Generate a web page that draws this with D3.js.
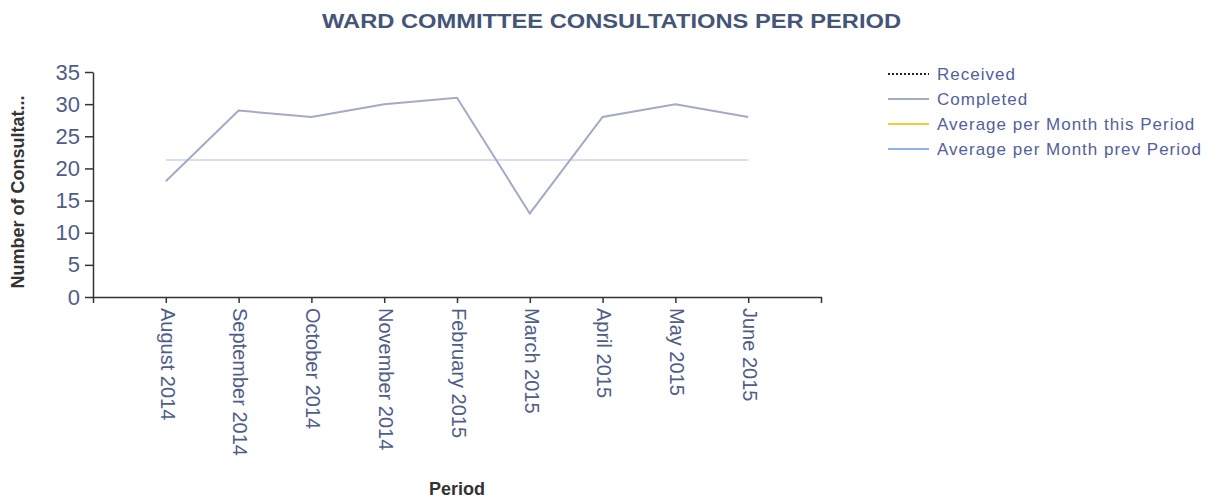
<!DOCTYPE html>
<html>
<head>
<meta charset="utf-8">
<script src="https://cdnjs.cloudflare.com/ajax/libs/d3/7.8.5/d3.min.js"></script>
<style>
  body { margin: 0; background: #ffffff; }
</style>
</head>
<body>
<div id="chart"></div>
<script>
// data
var periods = ["August 2014", "September 2014", "October 2014", "November 2014",
    "February 2015", "March 2015", "April 2015", "May 2015", "June 2015"];
var completed = [18, 29, 28, 30, 31, 13, 28, 30, 28];
var avgPrevPeriod = [21.3, 21.3, 21.3, 21.3, 21.3, 21.3, 21.3, 21.3, 21.3];
var yTicks = [0, 5, 10, 15, 20, 25, 30, 35];
var legendItems = ["Received", "Completed", "Average per Month this Period", "Average per Month prev Period"];

var font = "Arial, 'Liberation Sans', sans-serif";
var margin = { top: 72, left: 93 };
var width = 821 - margin.left;
var height = 297 - margin.top;

var svg = d3.select("#chart")
    .append("svg")
    .attr("width", 1218)
    .attr("height", 499);

var g = svg.append("g")
    .attr("transform", "translate(" + margin.left + "," + margin.top + ")");

var x = d3.scalePoint()
    .domain(periods)
    .range([0, width])
    .padding(1);

var y = d3.scaleLinear()
    .domain([0, 35])
    .range([height, 0]);

// title
svg.append("text")
    .attr("x", 322)
    .attr("y", 28)
    .attr("textLength", 579)
    .attr("lengthAdjust", "spacingAndGlyphs")
    .attr("font-family", font)
    .style("font-size", "20px")
    .attr("font-weight", 700)
    .attr("fill", "#445578")
    .text("WARD COMMITTEE CONSULTATIONS PER PERIOD");

// y axis
var yAxis = g.append("g")
    .call(d3.axisLeft(y).tickValues(yTicks).tickSize(8).tickSizeOuter(0));
yAxis.select(".domain").attr("stroke", "#333").attr("stroke-width", 1.5);
yAxis.selectAll(".tick line").attr("stroke", "#333").attr("stroke-width", 1.5);
yAxis.selectAll("text")
    .attr("x", -13)
    .attr("fill", "#4f5d88")
    .attr("font-family", font)
    .style("font-size", "22px");

// x axis
var xAxis = g.append("g")
    .attr("transform", "translate(0," + height + ")")
    .call(d3.axisBottom(x).tickSize(6).tickSizeOuter(6));
xAxis.select(".domain").attr("stroke", "#333").attr("stroke-width", 1.5);
xAxis.selectAll(".tick line").attr("stroke", "#333").attr("stroke-width", 1.5);
xAxis.selectAll("text")
    .attr("transform", "rotate(90)")
    .attr("x", 11)
    .attr("y", 0)
    .attr("dy", "0.28em")
    .attr("text-anchor", "start")
    .attr("fill", "#4f5d88")
    .attr("font-family", font)
    .style("font-size", "20px");

// axis titles
svg.append("text")
    .attr("transform", "rotate(-90)")
    .attr("x", -192)
    .attr("y", 24)
    .attr("text-anchor", "middle")
    .attr("font-family", font)
    .style("font-size", "18px")
    .attr("font-weight", 700)
    .attr("fill", "#333")
    .text("Number of Consultat...");

svg.append("text")
    .attr("x", 457)
    .attr("y", 495)
    .attr("text-anchor", "middle")
    .attr("font-family", font)
    .style("font-size", "18px")
    .attr("font-weight", 700)
    .attr("fill", "#333")
    .text("Period");

// lines
var line = d3.line()
    .x(function (d, i) { return x(periods[i]); })
    .y(function (d) { return y(d); });

g.append("path")
    .datum(avgPrevPeriod)
    .attr("fill", "none")
    .attr("stroke", "#c8d4ee")
    .attr("stroke-width", 1.5)
    .attr("d", line);

g.append("path")
    .datum(completed)
    .attr("fill", "none")
    .attr("stroke", "#a3aac6")
    .attr("stroke-width", 2)
    .attr("d", line);

// legend
var legendColors = ["#1c2540", "#a3aac6", "#f2cd3a", "#8fb3e8"];
var legendDash = ["2,2", null, null, null];

var legend = svg.append("g")
    .attr("transform", "translate(888,74)");

legendItems.forEach(function (name, i) {
    var row = legend.append("g").attr("transform", "translate(0," + (i * 25) + ")");
    row.append("line")
        .attr("x1", 0).attr("x2", 41)
        .attr("y1", 0).attr("y2", 0)
        .attr("stroke", legendColors[i])
        .attr("stroke-width", 2)
        .attr("stroke-dasharray", legendDash[i]);
    row.append("text")
        .attr("x", 49)
        .attr("y", 0)
        .attr("dy", "0.35em")
        .attr("font-family", font)
        .style("font-size", "17px")
        .style("letter-spacing", "1px")
        .attr("fill", "#52619a")
        .text(name);
});
</script>
</body>
</html>
